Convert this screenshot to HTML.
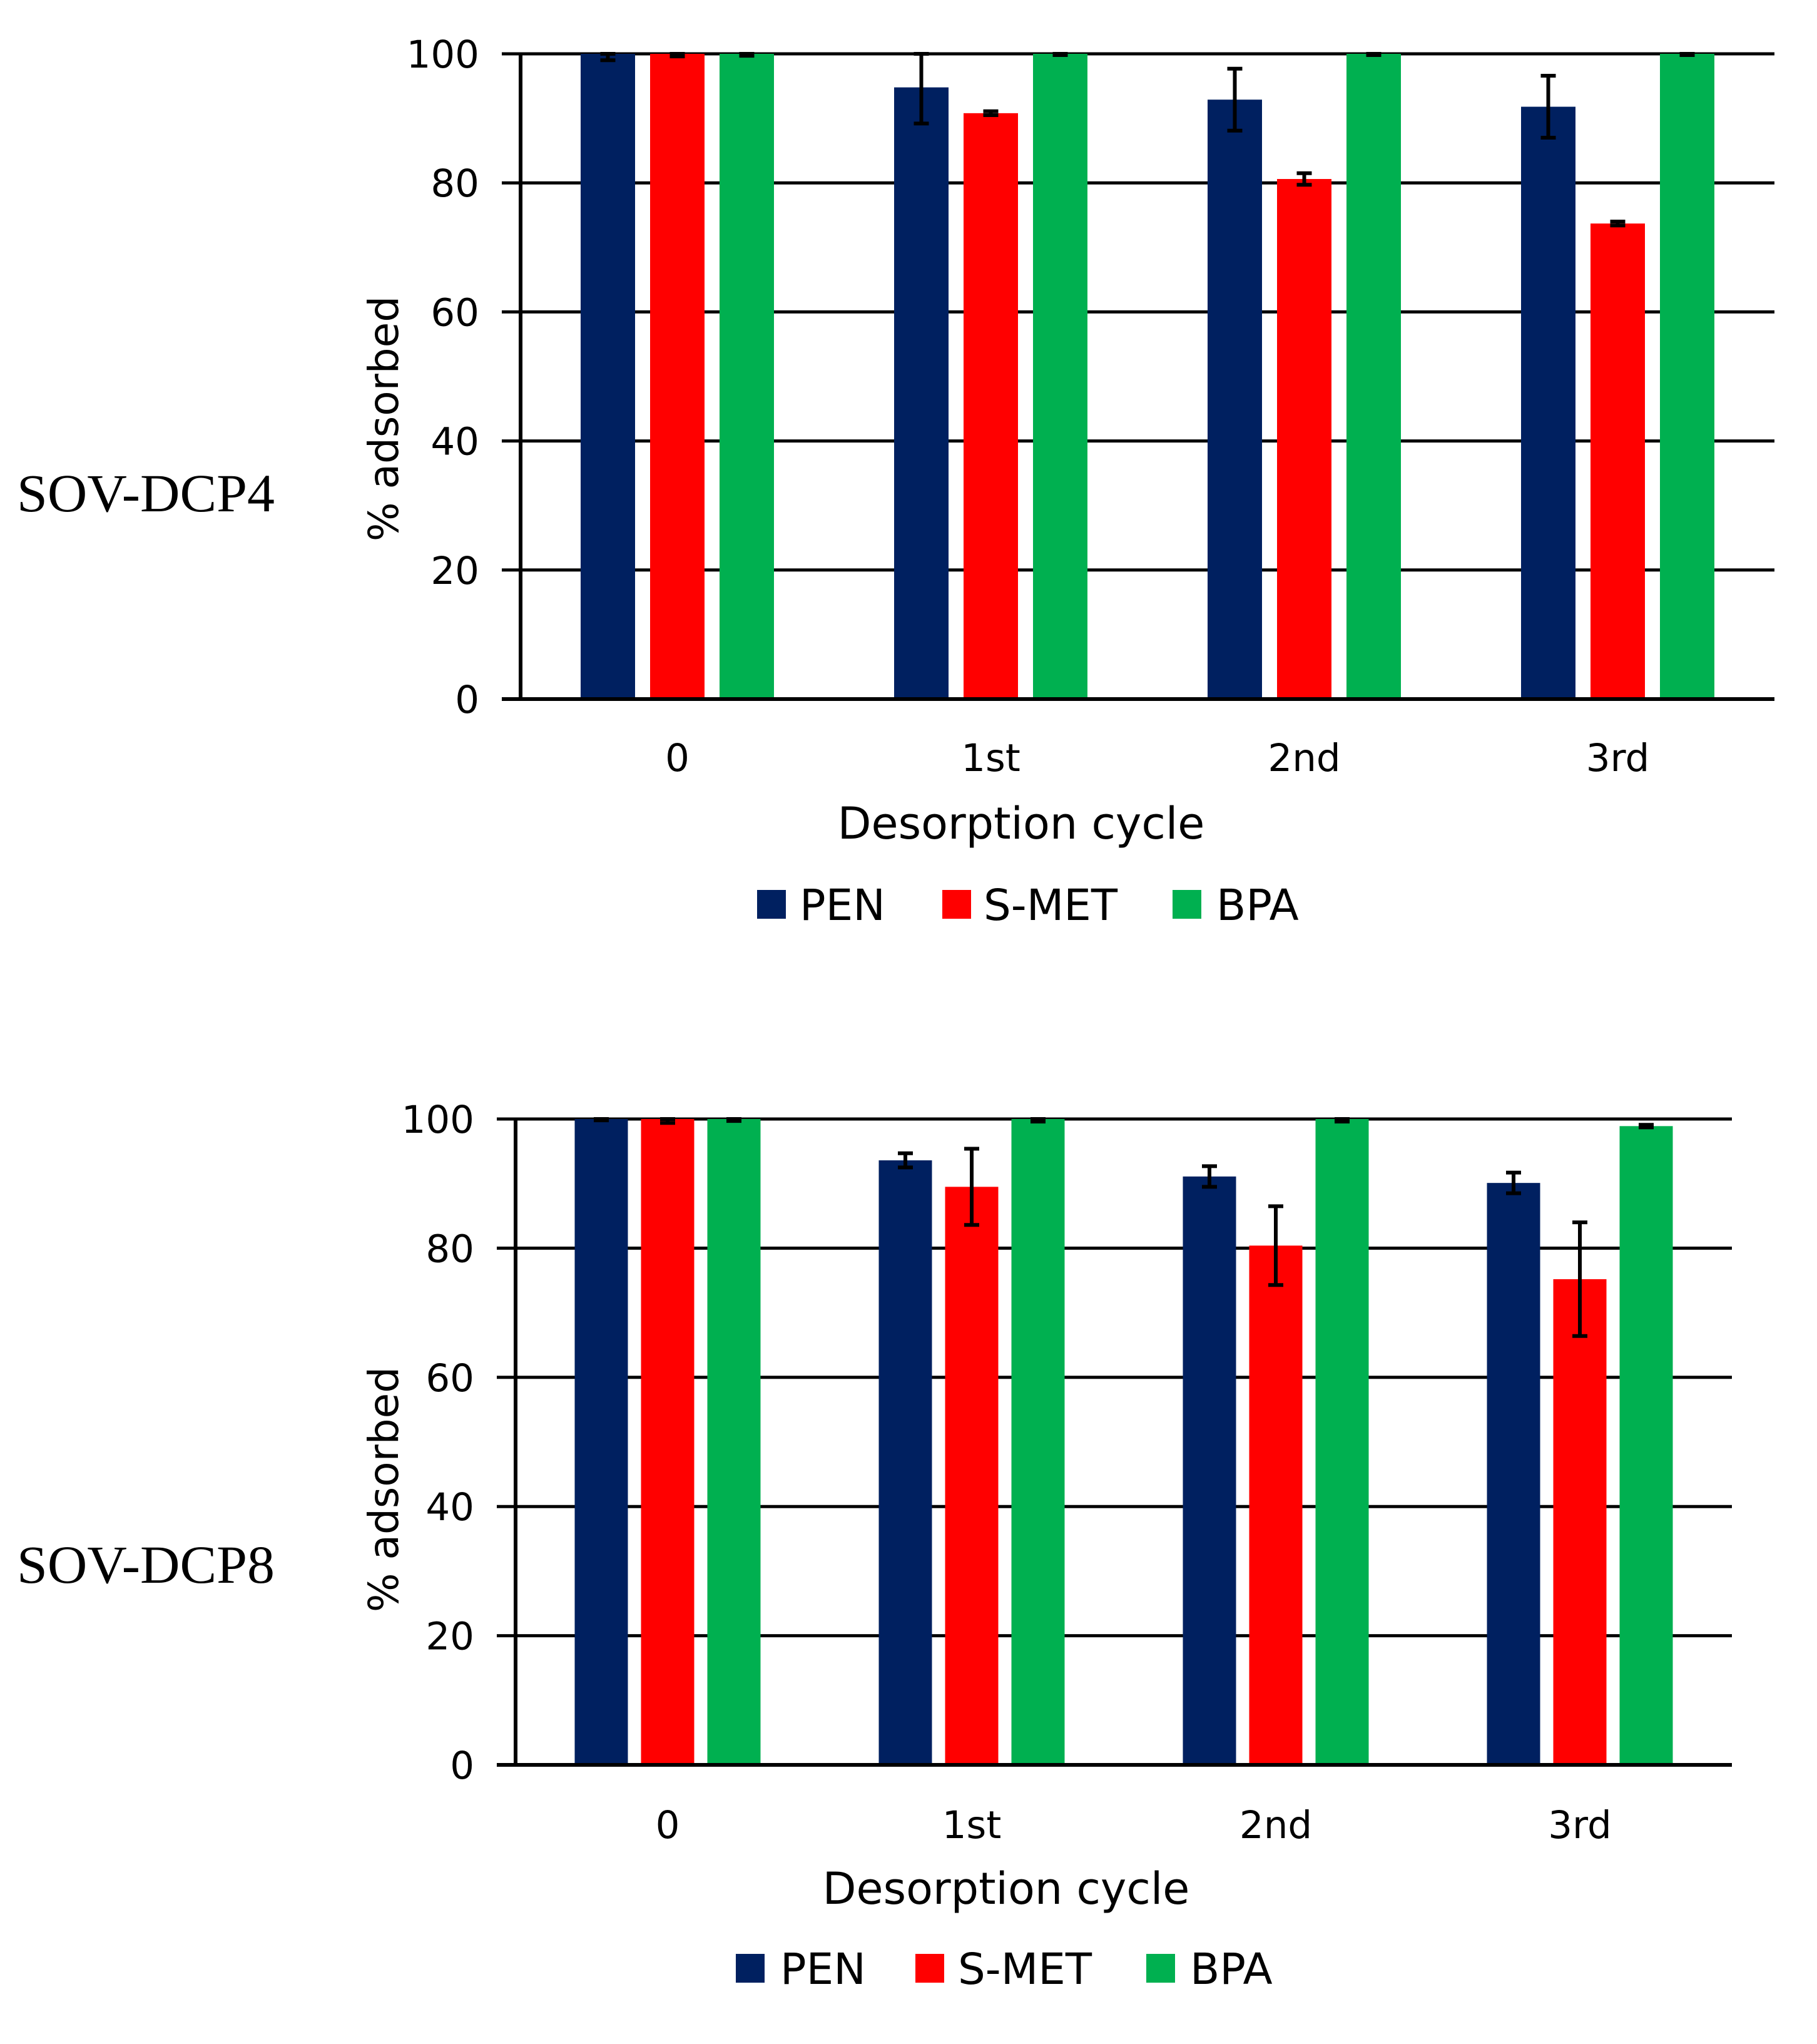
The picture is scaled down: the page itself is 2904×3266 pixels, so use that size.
<!DOCTYPE html>
<html><head><meta charset="utf-8"><style>
html,body{margin:0;padding:0;background:#fff;}
svg{display:block;}
</style></head><body>
<svg id="fig" width="2904" height="3266" viewBox="0 0 2904 3266" xmlns="http://www.w3.org/2000/svg">
<rect width="2904" height="3266" fill="#fff"/>
<text x="27" y="817" font-family="Liberation Serif, serif" font-size="86" textLength="412" lengthAdjust="spacingAndGlyphs">SOV-DCP4</text>
<text x="27" y="2529" font-family="Liberation Serif, serif" font-size="86" textLength="412" lengthAdjust="spacingAndGlyphs">SOV-DCP8</text>
<g id="c1"></g>
<g id="c2"></g>
</svg>
<script>
const categories = ["0", "1st", "2nd", "3rd"];
const seriesNames = ["PEN", "S-MET", "BPA"];
const seriesColors = ["#002060", "#ff0000", "#00b050"];
const yTicks = [0, 20, 40, 60, 80, 100];
// SOV-DCP4
const dcp4PEN = [100, 94.8, 92.9, 91.8];
const dcp4PENerr = [1.0, 5.6, 4.8, 4.8];
const dcp4SMET = [100, 90.8, 80.6, 73.7];
const dcp4SMETerr = [0.4, 0.3, 0.9, 0.3];
const dcp4BPA = [100, 100, 100, 100];
const dcp4BPAerr = [0.3, 0.2, 0.2, 0.2];
// SOV-DCP8
const dcp8PEN = [100, 93.6, 91.1, 90.1];
const dcp8PENerr = [0.2, 1.1, 1.6, 1.6];
const dcp8SMET = [100, 89.5, 80.4, 75.2];
const dcp8SMETerr = [0.6, 5.9, 6.1, 8.8];
const dcp8BPA = [100, 100, 100, 98.9];
const dcp8BPAerr = [0.3, 0.4, 0.4, 0.2];

const NS = "http://www.w3.org/2000/svg";
function mk(parent, tag, attrs, text) {
  const e = document.createElementNS(NS, tag);
  for (const k in attrs) e.setAttribute(k, attrs[k]);
  if (text !== undefined) e.textContent = text;
  parent.appendChild(e);
  return e;
}
const SANS = "DejaVu Sans, Liberation Sans, sans-serif";

function drawChart(g, cfg, vals, errs) {
  const x0 = cfg.x0, x1 = cfg.x1, yTop = cfg.yTop, yBot = cfg.yBot;
  const yScale = v => yBot - (v / 100) * (yBot - yTop);
  const band = (x1 - x0) / categories.length;
  const xCenter = i => x0 + band * (i + 0.5);
  yTicks.forEach(t => {
    const y = yScale(t);
    const l = mk(g, "line", {x1: x0 - 30, x2: x1, y1: y, y2: y, stroke: "#000", "stroke-width": 5});
    
    
    const tl = mk(g, "text", {x: x0 - 66, y: y + 22, "text-anchor": "end", "font-family": SANS, "font-size": 61}, String(t));
    
    
  });
  for (let s = 0; s < 3; s++) {
    for (let i = 0; i < categories.length; i++) {
      const cx = xCenter(i) + (s - 1) * cfg.pitch;
      const v = vals[s][i];
      const r = mk(g, "rect", {x: cx - cfg.bw / 2, y: yScale(v), width: cfg.bw, height: yBot - yScale(v), fill: seriesColors[s]});
      
      
      const e = errs[s][i];
      const eg = mk(g, "g", {stroke: "#000", "stroke-width": 6});
      
      
      const yt = Math.max(yScale(Math.min(v + e, 100)), yTop), yb = yScale(v - e);
      mk(eg, "line", {x1: cx, x2: cx, y1: yt, y2: yb});
      mk(eg, "line", {x1: cx - 12, x2: cx + 12, y1: yt, y2: yt});
      mk(eg, "line", {x1: cx - 12, x2: cx + 12, y1: yb, y2: yb});
    }
  }
  const ax = mk(g, "line", {x1: x0, x2: x0, y1: yTop, y2: yBot + 2, stroke: "#000", "stroke-width": 6});
  
  
  const bx = mk(g, "line", {x1: x0 - 30, x2: x1, y1: yBot, y2: yBot, stroke: "#000", "stroke-width": 6});
  
  
  categories.forEach((c, i) => {
    const t = mk(g, "text", {x: xCenter(i), y: cfg.xLabY, "text-anchor": "middle", "font-family": SANS, "font-size": 61}, c);
    
    
  });
  const yt = mk(g, "text", {x: 0, y: 0, "text-anchor": "middle", "font-family": SANS, "font-size": 66, transform: "translate(" + cfg.yTitleX + "," + cfg.yTitleY + ") rotate(-90)"}, "% adsorbed");
  
  
  const xt = mk(g, "text", {x: cfg.xTitleX, y: cfg.xTitleY, "text-anchor": "middle", "font-family": SANS, "font-size": 70}, "Desorption cycle");
  
  
  for (let s = 0; s < 3; s++) {
    const lg = mk(g, "g", {});
    
    
    mk(lg, "rect", {x: cfg.legSq[s], y: cfg.legY - 24, width: 46, height: 46, fill: seriesColors[s]});
    mk(lg, "text", {x: cfg.legTx[s], y: cfg.legY + 24, "font-family": SANS, "font-size": 69}, seriesNames[s]);
  }
}

drawChart(document.getElementById("c1"),
  {x0: 832, x1: 2836, yTop: 86, yBot: 1117, bw: 87, pitch: 111, xLabY: 1232,
   yTitleX: 636, yTitleY: 669, xTitleX: 1632, xTitleY: 1340,
   legY: 1446, legSq: [1210, 1506, 1874], legTx: [1278, 1572, 1944]},
  [dcp4PEN, dcp4SMET, dcp4BPA], [dcp4PENerr, dcp4SMETerr, dcp4BPAerr]);

drawChart(document.getElementById("c2"),
  {x0: 824, x1: 2768, yTop: 1788, yBot: 2820, bw: 85, pitch: 106, xLabY: 2937,
   yTitleX: 636, yTitleY: 2380, xTitleX: 1608, xTitleY: 3042,
   legY: 3146, legSq: [1176, 1463, 1832], legTx: [1247, 1531, 1902]},
  [dcp8PEN, dcp8SMET, dcp8BPA], [dcp8PENerr, dcp8SMETerr, dcp8BPAerr]);
</script>
</body></html>
